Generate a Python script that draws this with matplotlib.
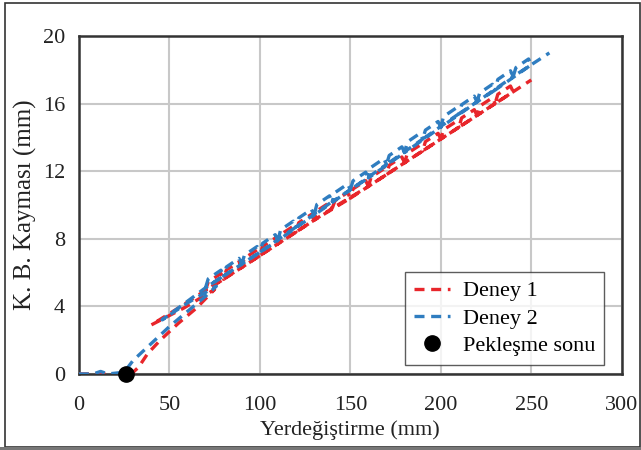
import matplotlib
matplotlib.use("Agg")
import matplotlib.pyplot as plt
from matplotlib.patches import Rectangle

# Deney 1: slip vs displacement, cyclic loading with a small loop at every 10 mm step
deney1_x = [0, 10, 20, 30, 33, 38, 45, 55, 65, 75, 58, 40, 55, 70,
            80, 78.5, 71.5, 70,
            90, 88.5, 81.5, 80,
            100, 98.5, 91.5, 90,
            110, 108.5, 101.5, 100,
            120, 118.5, 111.5, 110,
            130, 128.5, 121.5, 120,
            140, 138.5, 131.5, 130,
            150, 148.5, 141.5, 140,
            160, 158.5, 151.5, 150,
            170, 168.5, 161.5, 160,
            180, 178.5, 171.5, 170,
            190, 188.5, 181.5, 180,
            200, 198.5, 191.5, 190,
            210, 208.5, 201.5, 200,
            220, 218.5, 211.5, 210,
            230, 228.5, 221.5, 220,
            240, 238.5, 231.5, 230,
            250]
deney1_y = [0, 0, 0, 0.1, 0.4, 1.2, 2.0, 3.0, 3.9, 5.0, 3.9, 2.9, 3.9, 4.95,
            5.6, 5.94, 5.45, 4.95,
            6.3, 6.64, 6.15, 5.6,
            7.0, 7.34, 6.85, 6.3,
            7.7, 8.04, 7.55, 7.0,
            8.4, 8.74, 8.25, 7.7,
            9.1, 9.44, 8.95, 8.4,
            9.8, 10.14, 9.65, 9.1,
            10.4, 10.74, 10.25, 9.8,
            11.1, 11.44, 10.95, 10.4,
            11.8, 12.14, 11.65, 11.1,
            12.5, 12.84, 12.35, 11.8,
            13.2, 13.54, 13.05, 12.5,
            13.9, 14.24, 13.75, 13.2,
            14.6, 14.94, 14.45, 13.9,
            15.3, 15.64, 15.15, 14.6,
            16.0, 16.34, 15.85, 15.3,
            16.7, 17.04, 16.55, 16.0,
            17.4]

# Deney 2
deney2_x = [0, 8, 12, 16, 25, 30, 40, 50, 60, 70, 76, 60, 46, 60, 70,
            80, 78.5, 71.5, 70,
            90, 88.5, 81.5, 80,
            100, 98.5, 91.5, 90,
            110, 108.5, 101.5, 100,
            120, 118.5, 111.5, 110,
            130, 128.5, 121.5, 120,
            140, 138.5, 131.5, 130,
            150, 148.5, 141.5, 140,
            160, 158.5, 151.5, 150,
            170, 168.5, 161.5, 160,
            180, 178.5, 171.5, 170,
            190, 188.5, 181.5, 180,
            200, 198.5, 191.5, 190,
            210, 208.5, 201.5, 200,
            220, 218.5, 211.5, 210,
            230, 228.5, 221.5, 220,
            240, 238.5, 231.5, 230,
            250, 248.5, 241.5, 240,
            260]
deney2_y = [0, 0, 0.15, 0, 0.1, 0.8, 1.8, 2.8, 3.7, 4.6, 5.2, 4.2, 3.2, 4.3, 5.1,
            5.8, 6.14, 5.63, 5.1,
            6.5, 6.84, 6.33, 5.8,
            7.2, 7.54, 7.03, 6.5,
            7.9, 8.24, 7.73, 7.2,
            8.7, 9.04, 8.53, 7.9,
            9.4, 9.74, 9.23, 8.7,
            10.2, 10.54, 10.03, 9.4,
            10.9, 11.24, 10.73, 10.2,
            11.6, 11.94, 11.43, 10.9,
            12.4, 12.74, 12.23, 11.6,
            13.1, 13.44, 12.93, 12.4,
            13.9, 14.24, 13.73, 13.1,
            14.6, 14.94, 14.43, 13.9,
            15.4, 15.74, 15.23, 14.6,
            16.1, 16.44, 15.93, 15.4,
            16.8, 17.14, 16.63, 16.1,
            17.6, 17.94, 17.43, 16.8,
            18.3, 18.64, 18.13, 17.6,
            19.0]

# End of hardening point
pekl_x = [26]
pekl_y = [0]

x_ticks = [0, 50, 100, 150, 200, 250, 300]
y_ticks = [0, 4, 8, 12, 16, 20]

plt.rcParams['font.family'] = ['Liberation Serif', 'DejaVu Serif']

fig = plt.figure(figsize=(6.41, 4.50), dpi=100)
ax = fig.add_axes([0.123, 0.169, 0.847, 0.751])

red = '#e8262b'
blue = '#2f7dc0'

ax.plot(deney1_x, deney1_y, color=red, lw=2.4, dashes=(3, 2), label='Deney 1', zorder=3)
ax.plot(deney2_x, deney2_y, color=blue, lw=2.4, dashes=(3, 2), label='Deney 2', zorder=3)
ax.plot(pekl_x, pekl_y, 'o', color='black', ms=11, label='Pekleşme sonu',
        clip_on=False, zorder=5)

ax.set_xlim(0, 300)
ax.set_ylim(0, 20)
ax.set_xticks(x_ticks)
ax.set_yticks(y_ticks)
ax.tick_params(length=0, labelsize=16, pad=10, colors='#222222')
ax.tick_params(axis='x', pad=16)

ax.grid(True, color='#c8c8c8', lw=1.5)
ax.set_axisbelow(True)
for s in ax.spines.values():
    s.set_color('#333333')
    s.set_linewidth(1.8)

ax.set_xlabel('Yerdeğiştirme (mm)', fontsize=16, labelpad=4, color='#222222')
ax.set_ylabel('K. B. Kayması (mm)', fontsize=18, labelpad=4, color='#222222')

leg = ax.legend(loc='lower right', bbox_to_anchor=(0.968, 0.027), fontsize=16,
                frameon=True, fancybox=False, edgecolor='#333333',
                handlelength=1.6, labelspacing=0.3, borderpad=0.4,
                handletextpad=0.6, borderaxespad=0)
leg.get_frame().set_linewidth(1.0)

# Outer frame around the figure
fig.patches.append(Rectangle((0.008, 0.007), 0.99, 0.986, transform=fig.transFigure,
                             fill=False, edgecolor='#333333', lw=1.2))
fig.patches.append(Rectangle((0, 0), 1, 0.007, transform=fig.transFigure,
                             facecolor='#777777', edgecolor='none'))

fig.savefig('out.png', dpi=100)
